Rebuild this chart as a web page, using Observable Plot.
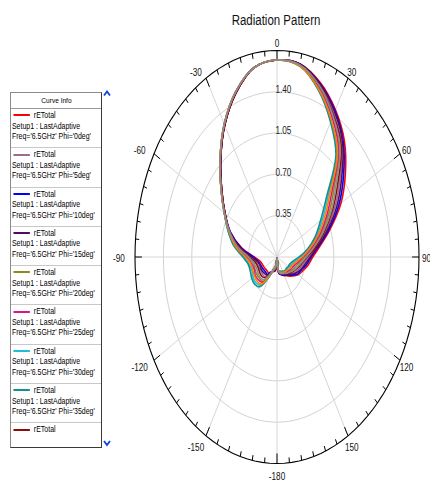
<!DOCTYPE html>
<html><head><meta charset="utf-8">
<script src="https://cdn.jsdelivr.net/npm/d3@7"></script>
<script src="https://cdn.jsdelivr.net/npm/@observablehq/plot@0.6"></script>
<style>
body{margin:0;background:#fff;}
#wrap{position:relative;width:430px;height:481px;overflow:hidden;font-family:'Liberation Sans Narrow','Arial Narrow','Liberation Sans',Arial,sans-serif;color:#000;}
#chart{position:absolute;left:0;top:0;}
#legend{position:absolute;left:10px;top:92px;width:92px;height:356px;box-sizing:border-box;border:1px solid #8a8a8a;border-right-color:#3a3a3a;border-bottom-color:#3a3a3a;background:#fff;overflow:hidden;}
.hdr{height:16px;box-sizing:border-box;border-bottom:1px solid #9a9a9a;text-align:center;font-size:8px;line-height:15px;}
.hdr span{display:inline-block;transform:scaleX(.82);}
.ent{height:39.3px;box-sizing:border-box;border-bottom:1px solid #c8c8c8;font-size:8.5px;line-height:10.5px;padding:1px 0 0 0;white-space:nowrap;overflow:hidden;}
.in{width:122%;transform:scaleX(.82);transform-origin:0 0;padding-left:1.2px;}
.sw{display:inline-block;width:19.5px;height:2px;vertical-align:middle;margin:0 5.2px 1px 2px;}
#arrows{position:absolute;left:0;top:0;}
</style></head><body>
<div id="wrap"><div id="chart"></div><div id="legend"></div>
<svg id="arrows" width="430" height="481"><path d="M104,95.5 L107,91.5 L110,95.5" fill="none" stroke="#1040e0" stroke-width="1.8"/><path d="M104,441 L107,445 L110,441" fill="none" stroke="#1040e0" stroke-width="1.8"/></svg>
</div>
<script>
// angles (deg) of the sampled pattern, -180 .. 170
const angles = [-180,-170,-160,-150,-140,-130,-120,-110,-100,-90,-80,-70,-60,-50,-40,-30,-20,-10,0,10,20,30,40,50,60,70,80,90,100,110,120,130,140,150,160,170];

const rPhi0  = [.01,.12,.13,.15,.17,.17,.18,.19,.21,.28,.44,.61,.74,.89,1.08,1.29,1.48,1.63,1.67,1.66,1.57,1.44,1.29,1.10,.91,.70,.54,.44,.39,.34,.30,.25,.21,.18,.16,.14];
const rPhi5  = [.01,.10,.12,.16,.22,.23,.23,.24,.26,.32,.47,.62,.74,.89,1.08,1.29,1.48,1.63,1.67,1.65,1.55,1.40,1.24,1.01,.82,.64,.49,.39,.33,.29,.26,.22,.19,.17,.15,.13];
const rPhi10 = [.01,.11,.13,.15,.19,.19,.20,.21,.23,.29,.45,.61,.74,.89,1.08,1.29,1.48,1.63,1.67,1.66,1.56,1.43,1.27,1.07,.88,.68,.52,.42,.37,.32,.29,.24,.20,.18,.16,.14];
const rPhi15 = [.01,.11,.12,.16,.20,.21,.22,.22,.24,.31,.46,.62,.74,.89,1.08,1.29,1.48,1.63,1.67,1.66,1.56,1.42,1.26,1.04,.85,.66,.51,.41,.35,.31,.27,.23,.20,.17,.15,.14];
const rPhi20 = [.01,.09,.11,.17,.27,.28,.29,.29,.30,.36,.50,.63,.75,.90,1.09,1.30,1.49,1.63,1.67,1.65,1.53,1.37,1.19,.92,.74,.58,.44,.34,.28,.24,.22,.19,.17,.16,.14,.13];
const rPhi25 = [.01,.08,.11,.18,.28,.30,.31,.30,.32,.38,.51,.63,.75,.90,1.09,1.30,1.49,1.63,1.67,1.65,1.52,1.36,1.18,.89,.71,.56,.43,.32,.26,.22,.20,.18,.17,.15,.14,.13];
const rPhi30 = [.01,.07,.10,.19,.31,.34,.34,.33,.35,.41,.53,.64,.75,.90,1.09,1.30,1.49,1.63,1.67,1.64,1.51,1.33,1.15,.83,.65,.52,.40,.29,.22,.19,.17,.16,.16,.14,.13,.12];
const rPhi35 = [.01,.06,.10,.19,.33,.36,.36,.35,.36,.42,.54,.64,.75,.90,1.09,1.30,1.49,1.63,1.67,1.64,1.50,1.32,1.13,.80,.62,.50,.38,.27,.20,.17,.16,.15,.15,.14,.13,.12];
const rPhi40 = [.01,.10,.12,.17,.23,.25,.25,.25,.27,.34,.48,.62,.74,.89,1.08,1.29,1.48,1.63,1.67,1.65,1.54,1.39,1.23,.98,.79,.62,.48,.37,.31,.27,.24,.21,.19,.16,.15,.13];
const rPhi45 = [.01,.07,.11,.18,.30,.32,.32,.32,.33,.39,.52,.63,.75,.90,1.09,1.30,1.49,1.63,1.67,1.64,1.51,1.34,1.16,.86,.68,.54,.41,.31,.24,.20,.19,.17,.16,.15,.14,.12];
const rPhi50 = [.01,.09,.12,.17,.25,.27,.27,.27,.29,.35,.49,.62,.75,.90,1.09,1.30,1.49,1.63,1.67,1.65,1.54,1.38,1.21,.95,.77,.60,.46,.36,.30,.26,.23,.20,.18,.16,.15,.13];

const phiLabels = ["0deg","5deg","10deg","15deg","20deg","25deg","30deg","35deg","40deg","45deg","50deg"];
const seriesValues = [rPhi0,rPhi5,rPhi10,rPhi15,rPhi20,rPhi25,rPhi30,rPhi35,rPhi40,rPhi45,rPhi50];
const seriesColors = ["#ff0000","#9c6c8c","#0000ff","#520a62","#8c8c1e","#dc1488","#26bcd4","#129090","#8c0c0c","#ff8000","#8c8c8c"];

const rings = [0.35, 0.70, 1.05, 1.40];
const ringLabels = ["0.35","0.70","1.05","1.40"];
const rMax = 1.75;
const angleTickValues = [0,30,60,90,120,150,180,210,240,270,300,330];
const angleTickLabels = ["0","30","60","90","120","150","-180","-150","-120","-90","-60","-30"];

const title = "Radiation Pattern";
const curveName = "rETotal";
const setupName = "Setup1 : LastAdaptive";
const freqLabel = "6.5GHz";

// ---------- build ----------
const rad = d => d * Math.PI / 180;
const rows = [];
seriesValues.forEach((vals, k) => vals.forEach((r, i) => rows.push({phi: phiLabels[k], theta: angles[i], r})));

const mL = 134.5, mR = 11.5, mT = 50, mB = 18, W = 430, H = 481;
const kx = (W - mL - mR) / (2 * rMax), ky = (H - mT - mB) / (2 * rMax);

const circ = [];
[...rings, rMax].forEach(r => d3.range(0, 360, 3).forEach(a => circ.push({r, a})));
const tickAngles = d3.range(0, 360, 5);

const labelPos = a => {
  const s = Math.sin(rad(a)), c = Math.cos(rad(a));
  const ox = s < -0.01 ? 12 * s - 4 : 7.5 * s;
  const oy = c >= 0 ? 2 - 9 * c : 2 - 11 * c;
  return {x: rMax * s + ox / kx, y: rMax * c - oy / ky};
};

const chart = Plot.plot({
  width: W, height: H,
  marginLeft: mL, marginRight: mR, marginTop: mT, marginBottom: mB,
  style: {fontFamily: "'Liberation Sans Narrow','Arial Narrow','Liberation Sans',Arial,sans-serif", background: "white"},
  x: {domain: [-rMax, rMax], axis: null},
  y: {domain: [-rMax, rMax], axis: null},
  color: {domain: phiLabels, range: seriesColors},
  marks: [
    Plot.line(circ.filter(d => d.r < rMax), {x: d => d.r * Math.sin(rad(d.a)), y: d => d.r * Math.cos(rad(d.a)), z: "r", curve: "linear-closed", stroke: "#d2d2d2", strokeWidth: 1}),
    Plot.link(angleTickValues, {x1: () => 0, y1: () => 0, x2: a => rMax * Math.sin(rad(a)), y2: a => rMax * Math.cos(rad(a)), stroke: "#d6d6d6", strokeWidth: 1}),
    Plot.line(circ.filter(d => d.r === rMax), {x: d => d.r * Math.sin(rad(d.a)), y: d => d.r * Math.cos(rad(d.a)), curve: "linear-closed", stroke: "#000", strokeWidth: 1.1}),
    Plot.link(tickAngles, {
      x1: a => rMax * Math.sin(rad(a)), y1: a => rMax * Math.cos(rad(a)),
      x2: a => (rMax - (a % 30 === 0 ? 0.085 : 0.045)) * Math.sin(rad(a)),
      y2: a => (rMax - (a % 30 === 0 ? 0.085 : 0.045)) * Math.cos(rad(a)),
      stroke: "#000", strokeWidth: 1
    }),
    Plot.line(rows, {x: d => d.r * Math.sin(rad(d.theta)), y: d => d.r * Math.cos(rad(d.theta)), z: "phi", stroke: "phi", strokeWidth: 1.6, curve: "catmull-rom-closed"}),
    Plot.text(rings, {x: () => 0, y: r => r, text: (d, i) => ringLabels[i], textAnchor: "start", dx: -1.5, dy: -2, fontSize: 10, fill: "#222"}),
    Plot.text(angleTickValues, {x: a => labelPos(a).x, y: a => labelPos(a).y, text: (d, i) => angleTickLabels[i], fontSize: 10, fill: "#111"}),
    Plot.text([title], {frameAnchor: "top", lineAnchor: "middle", dy: -30, dx: -1, fontSize: 14, fill: "#111"})
  ]
});
// condense the sans glyphs horizontally (no narrow face installed)
chart.querySelectorAll("text").forEach(t => {
  const tr = t.getAttribute("transform");
  if (tr) t.setAttribute("transform", tr + " scale(0.82,1)");
});
document.getElementById("chart").appendChild(chart);

// legend (scrolled list, first 9 entries visible)
const lg = document.getElementById("legend");
let html = `<div class="hdr"><span>Curve Info</span></div>`;
phiLabels.slice(0, 9).forEach((p, i) => {
  html += `<div class="ent"><div class="in"><div><span class="sw" style="background:${seriesColors[i]}"></span>${curveName}</div>`;
  if (i < 8) html += `<div>${setupName}</div><div>Freq='${freqLabel}' Phi='${p}'</div>`;
  html += `</div></div>`;
});
lg.innerHTML = html;
</script>
</body></html>
